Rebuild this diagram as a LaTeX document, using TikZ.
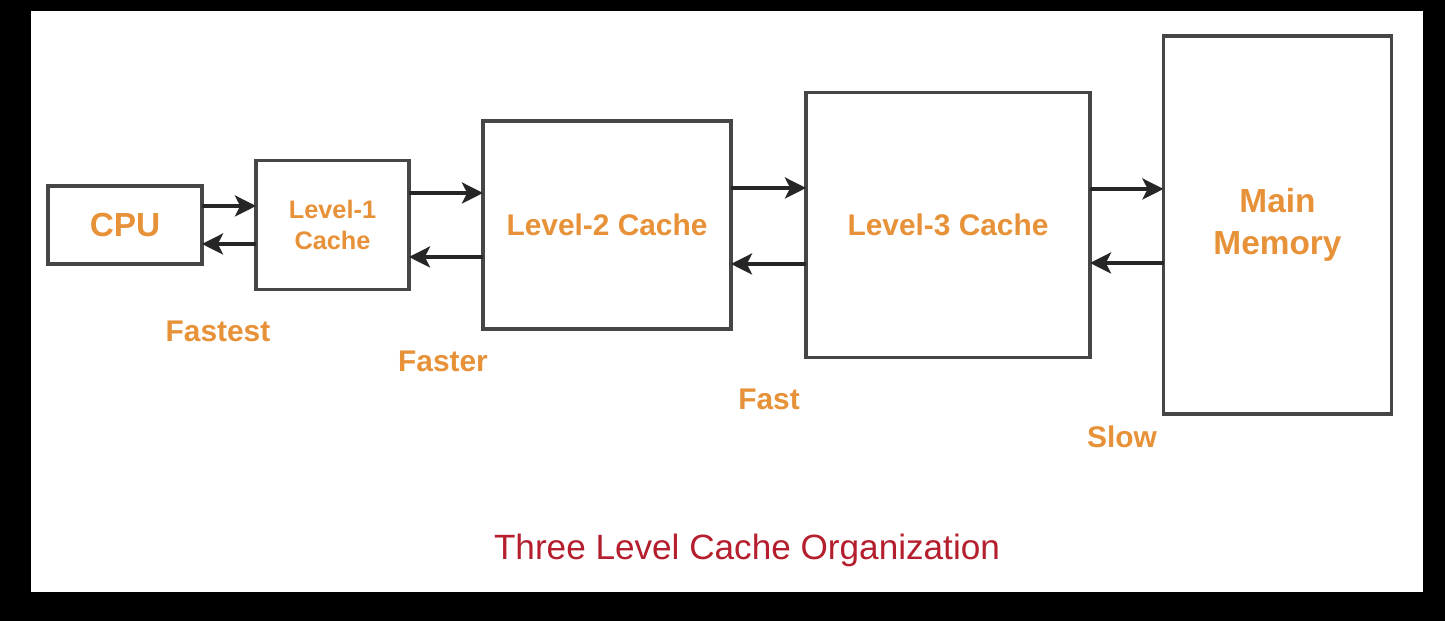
\documentclass[tikz,border=0pt]{standalone}
\usepackage{fontspec}
\setmainfont{Liberation Sans}
\usetikzlibrary{arrows.meta, positioning}
\definecolor{lvlorange}{RGB}{231,145,56}
\definecolor{titlered}{RGB}{180,30,45}
\definecolor{boxgray}{RGB}{70,70,70}

\begin{document}
\begin{tikzpicture}[node distance=3cm,on grid,
    box/.style={draw=boxgray, line width=1pt, fill=white, inner sep=0pt, outer sep=0pt,
      align=center, text=lvlorange, font=\bfseries\fontsize{8.5}{12}\selectfont},
    speed/.style={text=lvlorange, font=\bfseries\fontsize{8.5}{10}\selectfont},
    link/.style={draw=black!85, line width=1pt, -{Stealth[length=6pt,width=6pt,inset=1.5pt]}}]
			\fill[black] (0,0) rectangle (14.45,6.21);
			\fill[white] (0.31,0.29) rectangle (14.23,6.10);
			\useasboundingbox (0,0) rectangle (14.45,6.21);
			\node[box, minimum width=1.54cm, minimum height=0.78cm, font=\bfseries\fontsize{9.5}{11}\selectfont] (cpu) at (1.25,3.96) {CPU};
			\node[box, minimum width=1.53cm, minimum height=1.29cm, font=\bfseries\fontsize{7.2}{8.8}\selectfont] (l1) [right=2.075cm of cpu] {Level-1\\Cache};
			\node[box, minimum width=2.48cm, minimum height=2.08cm] (l2) [right=2.745cm of l1] {Level-2 Cache};
			\node[box, minimum width=2.84cm, minimum height=2.65cm] (l3) [right=3.41cm of l2] {Level-3 Cache};
			\node[box, minimum width=2.28cm, minimum height=3.78cm, font=\bfseries\fontsize{9.5}{12}\selectfont] (mm) [right=3.295cm of l3] {Main\\Memory};
			\path
				([yshift=1.9mm]cpu.east) edge[link] ([yshift=1.9mm]l1.west)
				([yshift=-1.9mm]l1.west) edge[link] ([yshift=-1.9mm]cpu.east)
				([yshift=3.2mm]l1.east) edge[link] ([yshift=3.2mm]l2.west)
				([yshift=-3.2mm]l2.west) edge[link] ([yshift=-3.2mm]l1.east)
				([yshift=3.7mm]l2.east) edge[link] ([yshift=3.7mm]l3.west)
				([yshift=-3.9mm]l3.west) edge[link] ([yshift=-3.9mm]l2.east)
				([yshift=3.6mm]l3.east) edge[link] ([yshift=3.6mm]mm.west)
				([yshift=-3.8mm]mm.west) edge[link] ([yshift=-3.8mm]l3.east);
			\node[speed] (fastest) at (2.18,2.90) {Fastest};
			\node[speed] (faster) at (4.43,2.60) {Faster};
			\node[speed] (fast) at (7.69,2.22) {Fast};
			\node[speed] (slow) at (11.22,1.84) {Slow};
			\node[text=titlered, font=\fontsize{10}{12}\selectfont] (title) at (7.47,0.71) {Three Level Cache Organization};
		\end{tikzpicture}
\end{document}
